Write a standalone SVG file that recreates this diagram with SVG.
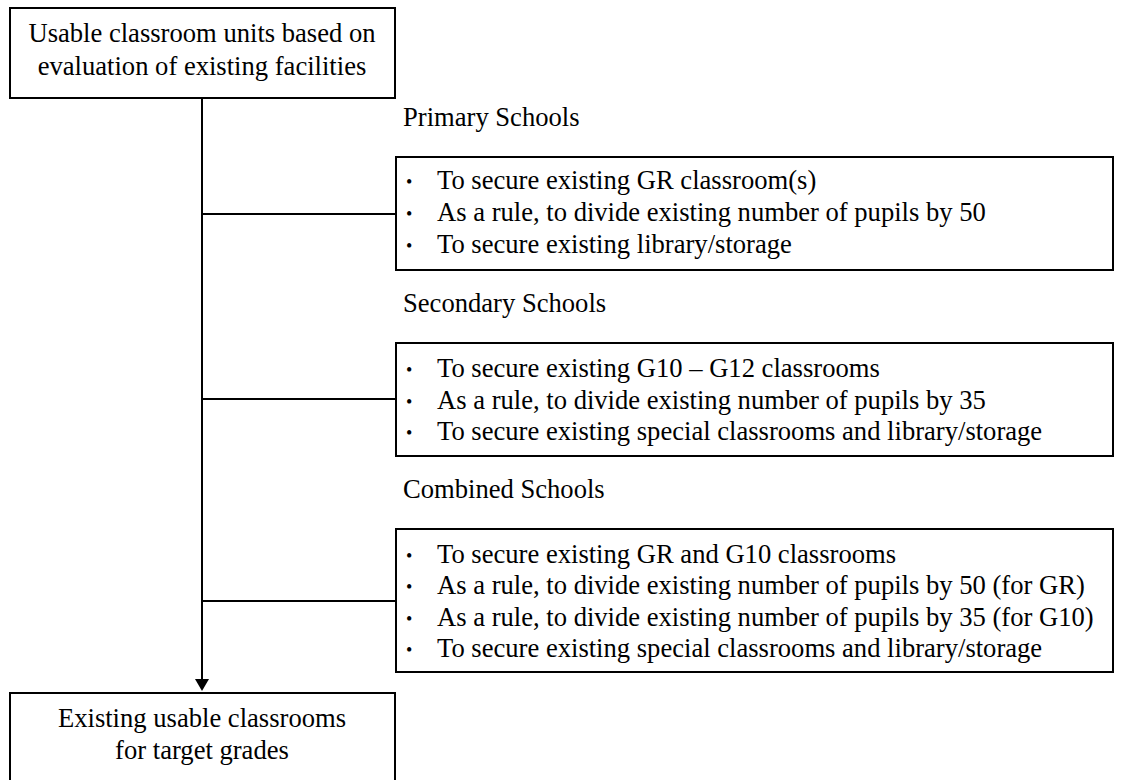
<svg xmlns="http://www.w3.org/2000/svg" width="1125" height="780" viewBox="0 0 1125 780">
<style>
.box{fill:#fff;stroke:#000;stroke-width:2}
.t{font-family:"Liberation Serif","Times New Roman",serif;font-size:26.6px;fill:#000}
.c{text-anchor:middle}
.b{font-size:18px}
.ln{stroke:#000;stroke-width:2;fill:none}
</style>
<g id="connectors">
<line class="ln" x1="202" y1="98" x2="202" y2="680"/>
<path d="M195,679 L209,679 L202,691 Z" fill="#000"/>
<line class="ln" x1="202" y1="214" x2="396" y2="214"/>
<line class="ln" x1="202" y1="399" x2="396" y2="399"/>
<line class="ln" x1="202" y1="601" x2="396" y2="601"/>
</g>
<g id="top">
<rect class="box" x="10" y="8" width="385" height="90"/>
<text class="t c" x="202" y="42">Usable classroom units based on</text>
<text class="t c" x="202" y="75">evaluation of existing facilities</text>
</g>
<g id="label-primary"><text class="t" x="403" y="126">Primary Schools</text></g>
<g id="primary">
<rect class="box" x="396" y="157" width="717" height="113"/>
<text class="t"><tspan class="b" x="406" y="188">•</tspan><tspan x="437" y="189">To secure existing GR classroom(s)</tspan></text>
<text class="t"><tspan class="b" x="406" y="220">•</tspan><tspan x="437" y="221">As a rule, to divide existing number of pupils by 50</tspan></text>
<text class="t"><tspan class="b" x="406" y="252">•</tspan><tspan x="437" y="253">To secure existing library/storage</tspan></text>
</g>
<g id="label-secondary"><text class="t" x="403" y="312">Secondary Schools</text></g>
<g id="secondary">
<rect class="box" x="396" y="343" width="717" height="113"/>
<text class="t"><tspan class="b" x="406" y="376">•</tspan><tspan x="437" y="377">To secure existing G10 – G12 classrooms</tspan></text>
<text class="t"><tspan class="b" x="406" y="408">•</tspan><tspan x="437" y="409">As a rule, to divide existing number of pupils by 35</tspan></text>
<text class="t"><tspan class="b" x="406" y="439">•</tspan><tspan x="437" y="440">To secure existing special classrooms and library/storage</tspan></text>
</g>
<g id="label-combined"><text class="t" x="403" y="498">Combined Schools</text></g>
<g id="combined">
<rect class="box" x="396" y="529" width="717" height="143"/>
<text class="t"><tspan class="b" x="406" y="562">•</tspan><tspan x="437" y="563">To secure existing GR and G10 classrooms</tspan></text>
<text class="t"><tspan class="b" x="406" y="593">•</tspan><tspan x="437" y="594">As a rule, to divide existing number of pupils by 50 (for GR)</tspan></text>
<text class="t"><tspan class="b" x="406" y="625">•</tspan><tspan x="437" y="626">As a rule, to divide existing number of pupils by 35 (for G10)</tspan></text>
<text class="t"><tspan class="b" x="406" y="656">•</tspan><tspan x="437" y="657">To secure existing special classrooms and library/storage</tspan></text>
</g>
<g id="bottom">
<rect class="box" x="10" y="693" width="385" height="90"/>
<text class="t c" x="202" y="727">Existing usable classrooms</text>
<text class="t c" x="202" y="759">for target grades</text>
</g>
</svg>
